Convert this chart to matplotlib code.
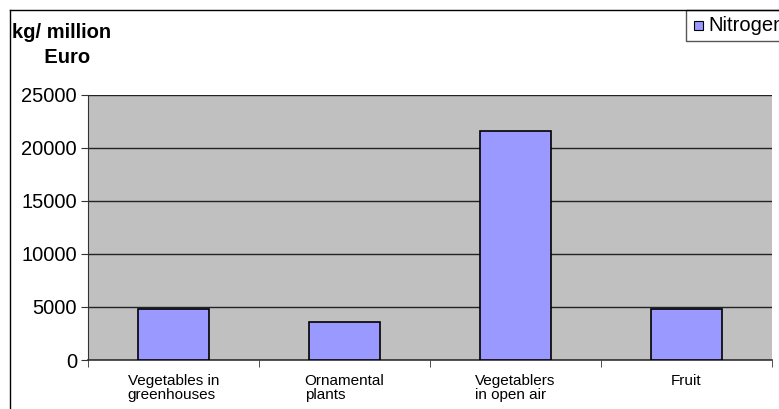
import matplotlib.pyplot as plt
import numpy as np
from matplotlib.patches import Rectangle
from matplotlib.lines import Line2D

plt.rcParams['font.family'] = ['Liberation Sans', 'DejaVu Sans']

# Nitrogen use per crop group
categories = ['Vegetables in\ngreenhouses', 'Ornamental\nplants', 'Vegetablers\nin open air', 'Fruit']
nitrogen = [4800, 3550, 21600, 4780]
yticks = [0, 5000, 10000, 15000, 20000, 25000]

W, H = 779, 409
fig = plt.figure(figsize=(W / 100, H / 100), dpi=100)
ax = fig.add_axes([88 / W, 1 - 360 / H, (772 - 88) / W, (360 - 95) / H])

x = np.arange(len(categories))
ax.set_facecolor('#C0C0C0')
ax.bar(x, nitrogen, width=0.41, color='#9999FF', edgecolor='black', linewidth=1.2, zorder=3)

ax.set_xlim(-0.5, len(categories) - 0.5)
ax.set_ylim(0, 25000)
ax.set_yticks(yticks)
ax.set_yticklabels([str(v) for v in yticks], fontsize=14.5)
ax.yaxis.grid(True, color='#222222', linewidth=1.0, zorder=1)

# category labels in the middle, tick marks on the boundaries
ax.set_xticks(x)
ax.set_xticklabels(categories, fontsize=11, linespacing=1.0, multialignment='left')
ax.tick_params(axis='x', length=0, pad=10)
ax.set_xticks(np.arange(-0.5, len(categories)), minor=True)
ax.tick_params(axis='x', which='minor', length=5, direction='out', color='#333333')
ax.tick_params(axis='y', length=5, direction='out', color='#333333', pad=3)

for side in ['top', 'right']:
    ax.spines[side].set_visible(False)
ax.spines['left'].set_color('#333333')
ax.spines['bottom'].set_color('#333333')
ax.spines['bottom'].set_linewidth(1.2)

# unit label
fig.text(62 / W, 1 - 45 / H, 'kg/ million\n  Euro', ha='center', va='center',
         fontsize=14.5, fontweight='bold', multialignment='center', linespacing=1.4)

# chart frame
fig.add_artist(Line2D([10 / W, 10 / W], [0, 1 - 10 / H], transform=fig.transFigure,
                      color='black', linewidth=1))
fig.add_artist(Line2D([10 / W, 1], [1 - 10 / H, 1 - 10 / H], transform=fig.transFigure,
                      color='black', linewidth=1))

# legend
fig.add_artist(Rectangle((686 / W, 1 - 41 / H), 120 / W, 31 / H, transform=fig.transFigure,
                         facecolor='white', edgecolor='#555555', linewidth=1))
fig.add_artist(Rectangle((694 / W, 1 - 30 / H), 9 / W, 9 / H, transform=fig.transFigure,
                         facecolor='#9999FF', edgecolor='black', linewidth=0.8))
fig.text(708 / W, 1 - 25.5 / H, 'Nitrogen', ha='left', va='center', fontsize=14.5)

fig.savefig('out.png', dpi=100)
